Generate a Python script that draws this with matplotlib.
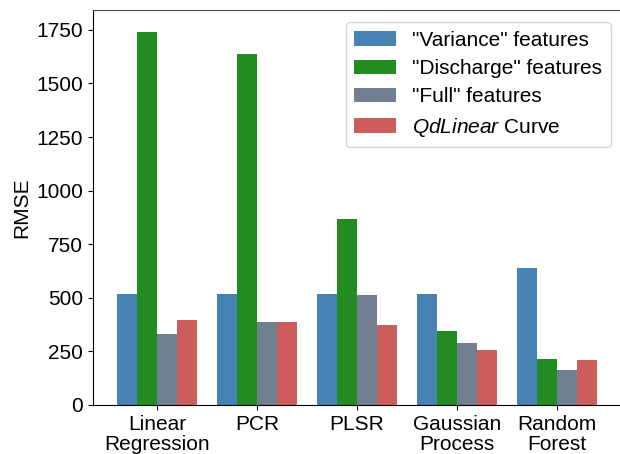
import numpy as np
import matplotlib.pyplot as plt

plt.rcParams["font.family"] = ["Liberation Sans", "DejaVu Sans"]
plt.rcParams["font.size"] = 15
plt.rcParams["mathtext.fontset"] = "custom"
plt.rcParams["mathtext.it"] = "Liberation Sans:italic"
plt.rcParams["mathtext.rm"] = "Liberation Sans"

modelos = ["Linear\nRegression", "PCR", "PLSR", "Gaussian\nProcess", "Random\nForest"]
series = ['"Variance" features', '"Discharge" features', '"Full" features',
          "$\\it{QdLinear}$ Curve"]
variance = [520, 520, 520, 520, 637]
discharge = [1742, 1636, 869, 344, 214]
full = [330, 386, 511, 288, 163]
qdlinear = [395, 386, 372, 256, 209]
cores = ["steelblue", "forestgreen", "slategray", "indianred"]

valores = [variance, discharge, full, qdlinear]
x = np.arange(len(modelos))
largura = 0.2

fig = plt.figure(figsize=(6.2, 4.54), dpi=100)
ax = fig.add_axes([0.15, 0.108, 0.852, 0.870])

for i, (vals, rotulo, cor) in enumerate(zip(valores, series, cores)):
    ax.bar(x + (i - 1.5) * largura, vals, largura, color=cor, label=rotulo)

ax.set_xticks(x)
ax.set_xticklabels(modelos, linespacing=1.1)
ax.set_ylabel("RMSE")
ax.set_yticks([0, 250, 500, 750, 1000, 1250, 1500, 1750])
ax.set_ylim(0, 1843)
ax.spines["right"].set_visible(False)
ax.spines["top"].set_color("0.3")
ax.legend(loc="upper right", handlelength=2.0, handleheight=0.7,
          labelspacing=0.45, bbox_to_anchor=(1.0, 0.995))

fig.savefig("out.png", dpi=100)
